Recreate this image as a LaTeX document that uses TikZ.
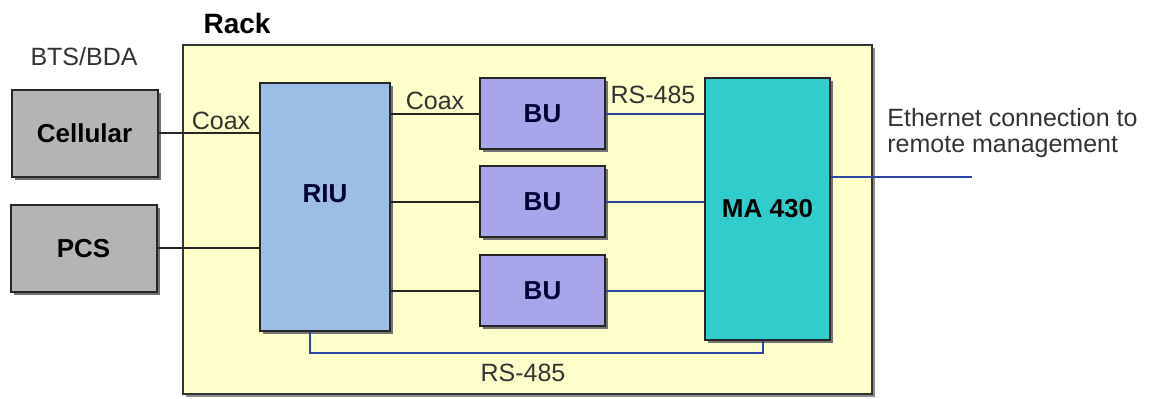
\documentclass[tikz,border=0pt]{standalone}
\usepackage{fontspec}
\setmainfont{Liberation Sans}
\usetikzlibrary{positioning,shadows}

\definecolor{rackyellow}{HTML}{FFFFCC}
\definecolor{btsgray}{HTML}{B4B4B4}
\definecolor{riublue}{HTML}{9CBDE6}
\definecolor{bulilac}{HTML}{A9A5EA}
\definecolor{mateal}{HTML}{33CCCC}
\definecolor{rsblue}{HTML}{2E45A8}

\begin{document}
\begin{tikzpicture}[
  x=0.5pt, y=-0.5pt,
  font=\fontsize{12.5}{13}\selectfont,
  unit/.style={rectangle, draw=black!85, line width=1pt, font=\fontsize{13}{14}\selectfont\bfseries,
    drop shadow={shadow xshift=1.5pt, shadow yshift=-1.5pt, fill=black!55, opacity=1}},
  bts/.style={unit, fill=btsgray, minimum width=73pt, minimum height=43.5pt},
  bu/.style={unit, fill=bulilac, minimum width=62.5pt, minimum height=35.5pt, text=blue!20!black},
  tag/.style={inner sep=1pt, text=black!80},
  coax/.style={line width=1pt, black!85},
  rs/.style={line width=1pt, rsblue}
]
\useasboundingbox (0,0) rectangle (1156,399);
% rack
\node[rectangle, draw=black!80, line width=1pt, fill=rackyellow, minimum width=344.5pt, minimum height=174.5pt,
  drop shadow={shadow xshift=1.5pt, shadow yshift=-1.5pt, fill=black!45, opacity=1}] (rack) at (527.5,219.5) {};
\node[font=\fontsize{14}{16}\selectfont\bfseries] (racklbl) at (237,24) {Rack};
% base stations
\node[tag] (btslbl) at (84,57) {BTS/BDA};
\node[bts] (cell) at (84.5,133.5) {Cellular};
\node[bts] (pcs)  at (83.5,248.5) {PCS};
% rack units
\node[unit, fill=riublue, minimum width=65pt, minimum height=124pt] (riu) at (325,207) {};
\node[font=\fontsize{13}{14}\selectfont\bfseries, text=blue!20!black] (riulbl) at (325,194) {RIU};
\node[bu] (bu1) at (542.5,114) {BU};
\node[bu] (bu2) at (542.5,202) {BU};
\node[bu] (bu3) at (542.5,291) {BU};
\node[unit, fill=mateal, minimum width=62.5pt, minimum height=131pt] (ma) at (767.5,209) {MA 430};
% coax links
\draw[coax] (cell.east) -- (cell.east -| riu.west);
\draw[coax] (pcs.east) -- (pcs.east -| riu.west);
\draw[coax] (riu.east |- bu1.west) -- (bu1.west);
\draw[coax] (riu.east |- bu2.west) -- (bu2.west);
\draw[coax] (riu.east |- bu3.west) -- (bu3.west);
\node[tag] (coax1) at (221,121) {Coax};
\node[tag] (coax2) at (435,101) {Coax};
% rs-485 links
\draw[rs] (bu1.east) -- (bu1.east -| ma.west);
\draw[rs] (bu2.east) -- (bu2.east -| ma.west);
\draw[rs] (bu3.east) -- (bu3.east -| ma.west);
\node[tag] (rs1) at (653,95) {RS-485};
\coordinate (bus) at (540,353);
\draw[rs] ([xshift=-7.5pt]riu.south) |- (bus) -| ([xshift=-2.5pt]ma.south);
\node[tag] (rs2) at (523,373) {RS-485};
% ethernet
\coordinate (eth) at (972,177);
\draw[rs] (ma.east |- eth) -- (eth);
\node[tag, anchor=west, align=left, font=\fontsize{12.5}{13}\selectfont] (ethlbl) at (885,133) {Ethernet connection to\\remote management};
\end{tikzpicture}
\end{document}
